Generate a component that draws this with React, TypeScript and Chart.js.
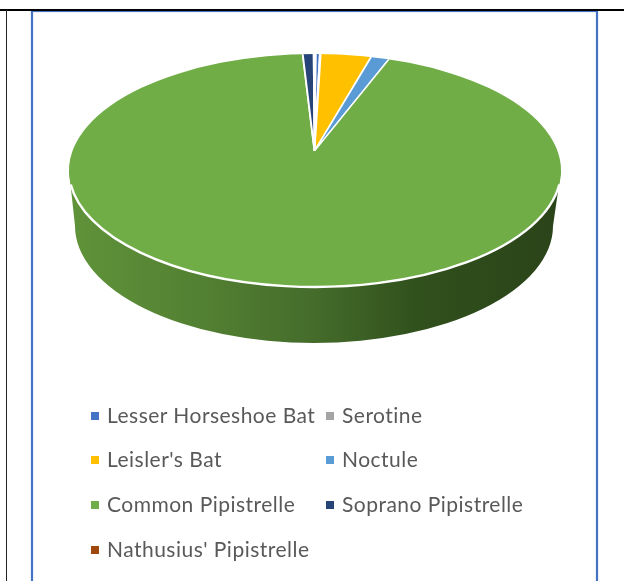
import React, { useEffect, useRef } from "react";
import { Chart, registerables } from "chart.js";

Chart.register(...registerables);

const speciesLabels = [
  "Lesser Horseshoe Bat",
  "Serotine",
  "Leisler's Bat",
  "Noctule",
  "Common Pipistrelle",
  "Soprano Pipistrelle",
  "Nathusius' Pipistrelle",
];
const shareValues = [0.28, 0.05, 3.31, 1.21, 94.32, 0.71, 0.12];
const sliceColors = ["#4472C4", "#A5A5A5", "#FFC000", "#5B9BD5", "#70AD47", "#264478", "#9E480E"];

// Projected geometry of the tilted disc
const TOP = { cx: 315, cy: 170.5, rx: 246, ry: 116.5 };
const BOTTOM = { cx: 314, cy: 226, rx: 239, ry: 117 };
const APEX = { x: 314.5, y: 151 };
const TILT = 0.394;
const PROJECTED_RADIUS = 360;

const pie3d = {
  id: "pie3d",
  beforeDatasetsDraw(chart: any) {
    const ctx = chart.ctx;
    const grad = ctx.createLinearGradient(BOTTOM.cx - BOTTOM.rx, 0, BOTTOM.cx + BOTTOM.rx, 0);
    grad.addColorStop(0, "#5F9239");
    grad.addColorStop(0.28, "#527F32");
    grad.addColorStop(0.5, "#456C2B");
    grad.addColorStop(0.72, "#30501C");
    grad.addColorStop(1, "#2B4419");
    ctx.save();
    ctx.fillStyle = grad;
    ctx.beginPath();
    ctx.moveTo(TOP.cx - TOP.rx, TOP.cy);
    ctx.lineTo(BOTTOM.cx - BOTTOM.rx, BOTTOM.cy);
    ctx.ellipse(BOTTOM.cx, BOTTOM.cy, BOTTOM.rx, BOTTOM.ry, 0, Math.PI, 0, true);
    ctx.lineTo(TOP.cx + TOP.rx, TOP.cy);
    ctx.closePath();
    ctx.fill();
    ctx.restore();

    const el = chart.getDatasetMeta(0).data[0];
    const s = PROJECTED_RADIUS / el.outerRadius;
    ctx.save();
    ctx.beginPath();
    ctx.ellipse(TOP.cx, TOP.cy, TOP.rx, TOP.ry, 0, 0, Math.PI * 2);
    ctx.clip();
    ctx.translate(APEX.x, APEX.y);
    ctx.scale(s, s * TILT);
    ctx.translate(-el.x, -el.y);
  },
  afterDatasetsDraw(chart: any) {
    const ctx = chart.ctx;
    ctx.restore();
    ctx.save();
    ctx.strokeStyle = "#FFFFFF";
    ctx.lineWidth = 2.4;
    ctx.beginPath();
    ctx.ellipse(TOP.cx, TOP.cy, TOP.rx, TOP.ry, 0, 0.12, Math.PI - 0.12);
    ctx.stroke();
    ctx.restore();
  },
};

const legendSlots = [
  { col: 0, row: 0 },
  { col: 1, row: 0 },
  { col: 0, row: 1 },
  { col: 1, row: 1 },
  { col: 0, row: 2 },
  { col: 1, row: 2 },
  { col: 0, row: 3 },
];
const colX = [91, 326];
const rowY = [416, 460, 505, 550];

const line = (style: React.CSSProperties): React.CSSProperties => ({ position: "absolute", ...style });
const frameBlue = "#4472C4";
const soft = `0 0 1px ${frameBlue}`;

export default function App() {
  const ref = useRef<HTMLCanvasElement>(null);
  useEffect(() => {
    const chart = new Chart(ref.current!, {
      type: "pie",
      data: {
        labels: speciesLabels,
        datasets: [
          {
            data: shareValues,
            backgroundColor: sliceColors,
            borderColor: "#FFFFFF",
            borderWidth: 1.5,
            clip: false,
          } as any,
        ],
      },
      options: {
        responsive: false,
        animation: false,
        rotation: 0.25,
        layout: { padding: 0 },
        plugins: { legend: { display: false }, tooltip: { enabled: false } },
      },
      plugins: [pie3d],
    });
    return () => chart.destroy();
  }, []);

  return (
    <div style={{ position: "fixed", left: 0, top: 0, width: 624, height: 581, overflow: "hidden", background: "#fff" }}>
      <canvas ref={ref} width={624} height={581} style={{ position: "absolute", left: 0, top: 0 }} />
      <div style={line({ left: 31, top: 11, width: 566, height: 1, background: frameBlue, boxShadow: soft })} />
      <div style={line({ left: 31, top: 11, width: 2, height: 570, background: frameBlue, boxShadow: soft })} />
      <div style={line({ left: 596, top: 11, width: 2, height: 570, background: frameBlue, boxShadow: soft })} />
      <div style={line({ left: 0, top: 9, width: 624, height: 2, background: "#000" })} />
      <div style={line({ left: 6, top: 10, width: 1, height: 571, background: "#222" })} />
      {speciesLabels.map((label, i) => {
        const slot = legendSlots[i];
        return (
          <React.Fragment key={label}>
            <div
              style={line({
                left: colX[slot.col],
                top: rowY[slot.row] - 4,
                width: 8,
                height: 8,
                background: sliceColors[i],
              })}
            />
            <div
              style={line({
                left: colX[slot.col] + 16,
                top: rowY[slot.row] - 16.5,
                height: 30,
                lineHeight: "30px",
                fontFamily: "Lato, sans-serif",
                fontSize: 21,
                letterSpacing: 0.48,
                color: "#595959",
                whiteSpace: "nowrap",
              })}
            >
              {label}
            </div>
          </React.Fragment>
        );
      })}
    </div>
  );
}
